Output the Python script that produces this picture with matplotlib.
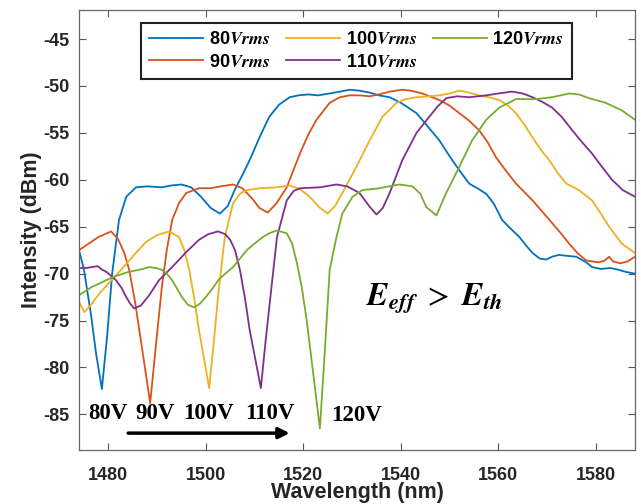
import matplotlib
matplotlib.use("Agg")
import matplotlib.pyplot as plt

plt.rcParams['font.family'] = ['Liberation Sans', 'DejaVu Sans']
plt.rcParams['mathtext.fontset'] = 'stix'
plt.rcParams['axes.unicode_minus'] = False

# Spectra (wavelength in nm, intensity in dBm)
wl_80 = [1474, 1475, 1476.5, 1477.5, 1478.7, 1479.8, 1480.8, 1482.2, 1483.7, 1485.7,
         1488, 1491, 1493, 1495, 1497, 1499, 1501, 1502.9, 1504.5, 1506, 1507.5, 1509,
         1511, 1513, 1515, 1517.2, 1519, 1521, 1523, 1525.4, 1527.5, 1529.5, 1531.5,
         1533.6, 1535.5, 1537.7, 1540, 1541.5, 1543.2, 1545, 1547.9, 1550, 1552, 1554,
         1556, 1557.5, 1559, 1560.8, 1562.5, 1564.3, 1566, 1567, 1568.5, 1569.8, 1571,
         1572.4, 1574, 1576, 1578, 1579.2, 1581, 1583, 1584.7, 1586, 1588]
int_80 = [-67.5, -69.5, -74.5, -78.5, -82.3, -76.5, -70, -64.3, -61.8, -60.8,
          -60.7, -60.8, -60.6, -60.5, -60.8, -61.8, -63, -63.6, -62.8, -61, -59.5, -57.9,
          -55.5, -53.3, -52, -51.2, -51, -50.9, -51, -50.8, -50.6, -50.4, -50.5,
          -50.7, -51, -51.2, -51.8, -52.3, -52.9, -54, -55.8, -57.5, -59, -60.4,
          -61, -61.5, -62.5, -64.3, -65.2, -66.1, -67.2, -67.8, -68.4, -68.5, -68.2,
          -68, -68.1, -68.2, -68.8, -69.3, -69.5, -69.4, -69.6, -69.8, -70]

wl_90 = [1474, 1476, 1478, 1480.6, 1482, 1483.3, 1484.3, 1485.5, 1486.8, 1488.6,
         1489.8, 1491, 1492, 1493.1, 1494.5, 1496, 1498.6, 1501, 1503, 1505.6, 1507.5,
         1509.5, 1511, 1512.7, 1514.5, 1516.6, 1519.3, 1521, 1522.7, 1525.4, 1527.5,
         1529.5, 1531.5, 1533.6, 1535.5, 1537.7, 1540.3, 1542, 1544.4, 1547.9, 1550,
         1552, 1554, 1556, 1557.8, 1559.5, 1561.5, 1563.6, 1565.3, 1567, 1569, 1571,
         1572.8, 1574.5, 1576.2, 1578, 1580.6, 1581.8, 1582.7, 1583.5, 1585, 1586.5, 1588]
int_90 = [-67.5, -66.8, -66.1, -65.5, -66.3, -67.8, -69.6, -73, -77.5, -83.8,
          -77.5, -71.4, -67.5, -64.3, -62.5, -61.4, -60.9, -60.9, -60.7, -60.5, -60.9,
          -62, -63, -63.5, -62.5, -60.8, -57.2, -55.2, -53.6, -51.8, -51.2,
          -51, -51, -51.1, -50.9, -50.6, -50.4, -50.5, -50.8, -51.5, -52.1,
          -52.9, -53.7, -54.7, -56, -57.6, -59, -60.4, -61.3, -62.2, -63.4, -64.6,
          -65.7, -66.8, -67.8, -68.6, -68.8, -68.6, -68.2, -68.7, -68.9, -68.7, -68.2]

wl_100 = [1474, 1475.1, 1476.5, 1478.2, 1479.8, 1481.2, 1482.8, 1484.3, 1486, 1487.8,
          1490, 1492.5, 1494.5, 1495.6, 1496.6, 1497.6, 1498.6, 1500.7, 1501.6, 1502.5,
          1503.9, 1505.6, 1507, 1508.4, 1511, 1514.6, 1517.2, 1519.3, 1521.3, 1523.2,
          1525, 1526.5, 1528, 1530.9, 1533.6, 1536.2, 1539.1, 1541, 1543.2, 1545.8,
          1547.9, 1550, 1552, 1554, 1556, 1558, 1560.2, 1562, 1563.6, 1565.3, 1567,
          1568.7, 1570.4, 1572.2, 1573.9, 1576.5, 1579.2, 1581, 1582.7, 1584, 1585.3, 1588]
int_100 = [-73, -74.1, -73.3, -72.1, -71.2, -70.4, -69.5, -68.6, -67.6, -66.6,
           -65.9, -65.5, -66.1, -67.5, -69.6, -72.5, -76, -82.2, -77.5, -72.5,
           -66.1, -62.5, -61.5, -61.1, -60.9, -60.8, -60.6, -61, -61.8, -62.9,
           -63.6, -62.8, -61.4, -58.6, -55.8, -53.3, -51.8, -51.4, -51.2, -51.1,
           -51, -50.8, -50.5, -50.7, -51, -51.2, -51.5, -52.1, -52.9, -54.1, -55.5,
           -56.8, -57.9, -59.3, -60.4, -61.1, -62.2, -63.6, -65, -65.9, -66.8, -67.8]

wl_110 = [1474, 1475.5, 1476.7, 1477.8, 1478.8, 1479.6, 1481.6, 1482.7, 1483.7, 1484.5,
          1485.3, 1486.7, 1488.4, 1490.4, 1493.1, 1496, 1498.6, 1500.5, 1502.5, 1504,
          1505, 1506, 1507, 1508, 1509, 1511.3, 1512.2, 1513.1, 1514.6, 1516.6, 1518,
          1519.3, 1523.4, 1526.8, 1529, 1531.5, 1533.5, 1535, 1536.3, 1537.7, 1540.3,
          1543.2, 1545.8, 1547.5, 1549.3, 1551.5, 1554, 1557.5, 1560, 1562.8, 1565,
          1567, 1569, 1571, 1573, 1575.1, 1577, 1579.2, 1581.2, 1583.3, 1585.5, 1588]
int_110 = [-69.4, -69.4, -69.3, -69.2, -69.6, -69.8, -70.7, -71.5, -72.5, -73.2,
           -73.7, -73.4, -72.3, -70.7, -69.3, -67.7, -66.4, -65.8, -65.5, -65.8,
           -66.4, -67.5, -69.6, -72.5, -76, -82.2, -77.5, -73.2, -66.1, -62.2, -61.2,
           -60.9, -60.8, -60.5, -60.7, -61.4, -62.8, -63.7, -63, -61.4, -57.9,
           -55, -53.3, -52.2, -51.3, -51.1, -51.2, -51, -50.8, -50.6, -50.8,
           -51.2, -51.7, -52.3, -53.3, -54.7, -55.9, -57.2, -58.6, -60, -61.1, -61.8]

wl_120 = [1474, 1475.5, 1476.7, 1478.8, 1480.8, 1482.5, 1484.3, 1486.3, 1488.4, 1489.8,
          1491, 1492, 1493.1, 1494.1, 1495.1, 1496.3, 1497.6, 1498.8, 1500, 1501.5,
          1502.7, 1504, 1505.6, 1507, 1508.4, 1510, 1511.7, 1513, 1514.6, 1516.6,
          1517.7, 1518.7, 1519.7, 1520.7, 1523.4, 1524.5, 1525.4, 1526.8, 1528, 1530.1,
          1532.1, 1535.6, 1537.5, 1539.7, 1542.4, 1544, 1545.2, 1547.3, 1549.3, 1552,
          1554.6, 1557.5, 1560.2, 1563.6, 1567.7, 1571, 1574.5, 1576.5, 1578.6, 1582,
          1585.3, 1588]
int_120 = [-72.3, -71.8, -71.4, -70.9, -70.4, -70.1, -69.8, -69.6, -69.3, -69.4,
           -69.6, -70, -70.7, -71.6, -72.5, -73.3, -73.6, -73.2, -72.5, -71.5,
           -70.6, -70, -69.3, -68.4, -67.5, -66.8, -66.1, -65.7, -65.4, -65.7,
           -66.8, -68.9, -71.5, -75, -86.5, -77.5, -69.6, -66.1, -63.6, -61.8,
           -61.1, -60.9, -60.7, -60.5, -60.7, -61.5, -62.9, -63.8, -61.4, -58.6,
           -55.8, -53.6, -52.3, -51.4, -51.4, -51.2, -50.8, -50.9, -51.3, -51.8,
           -52.6, -53.6]

labels = ['80', '90', '100', '110', '120']
colors = ['#0072BD', '#D95319', '#EDB120', '#7E2F8E', '#77AC30']
wls = [wl_80, wl_90, wl_100, wl_110, wl_120]
ints = [int_80, int_90, int_100, int_110, int_120]

# voltage annotations under the dips
volt_text = ['80V', '90V', '100V', '110V', '120V']
volt_x = [1480, 1489.6, 1500.6, 1513.1, 1531]
volt_y = [-84.9, -84.9, -84.9, -84.9, -85.1]

fig = plt.figure(figsize=(6.41, 5.04), dpi=100)
ax = fig.add_axes([0.1232, 0.1071, 0.8674, 0.8731])

for wl, it, lab, c in zip(wls, ints, labels, colors):
    ax.plot(wl, it, color=c, lw=1.3, label=lab + r'$\mathbfit{Vrms}$')

for t, x, y in zip(volt_text, volt_x, volt_y):
    ax.text(x, y, t, ha='center', va='center', fontsize=16.5, fontweight='bold',
            family='Liberation Serif')

ax.annotate('', xy=(1517.2, -87.0), xytext=(1484.1, -87.0),
            arrowprops=dict(arrowstyle='-|>', color='black', lw=2.5,
                            mutation_scale=16, shrinkA=0, shrinkB=0))

ax.text(1546.9, -72.6, r'$\mathbfit{E_{eff}}\ >\ \mathbfit{E_{th}}$', fontsize=23,
        ha='center', va='center')

ax.set_xlim(1474, 1588)
ax.set_ylim(-88.8, -41.9)
ax.set_xticks([1480, 1500, 1520, 1540, 1560, 1580])
ax.set_yticks([-85, -80, -75, -70, -65, -60, -55, -50, -45])
ax.tick_params(direction='in', top=True, right=True, length=5, width=0.8,
               color='#555555', labelsize=13, labelcolor='#262626')
ax.tick_params(axis='x', pad=12)
ax.tick_params(axis='y', pad=7)
for lbl in ax.get_xticklabels() + ax.get_yticklabels():
    lbl.set_fontweight('bold')
for s in ax.spines.values():
    s.set_color('#666666')
    s.set_linewidth(0.9)

ax.set_xlabel('Wavelength (nm)', fontsize=15.5, fontweight='bold', color='#262626', labelpad=-1)
ax.set_ylabel('Intensity (dBm)', fontsize=15.5, fontweight='bold', color='#262626', labelpad=1)

leg = ax.legend(ncol=3, loc='upper left', bbox_to_anchor=(0.1115, 0.97),
                borderaxespad=0, prop={'weight': 'bold', 'size': 13}, fancybox=False,
                edgecolor='#222222', framealpha=1, handlelength=3.0,
                columnspacing=0.9, handletextpad=0.3, borderpad=0.45,
                labelspacing=0.3)
leg.get_frame().set_linewidth(1.5)

fig.savefig('out.png', dpi=100)
